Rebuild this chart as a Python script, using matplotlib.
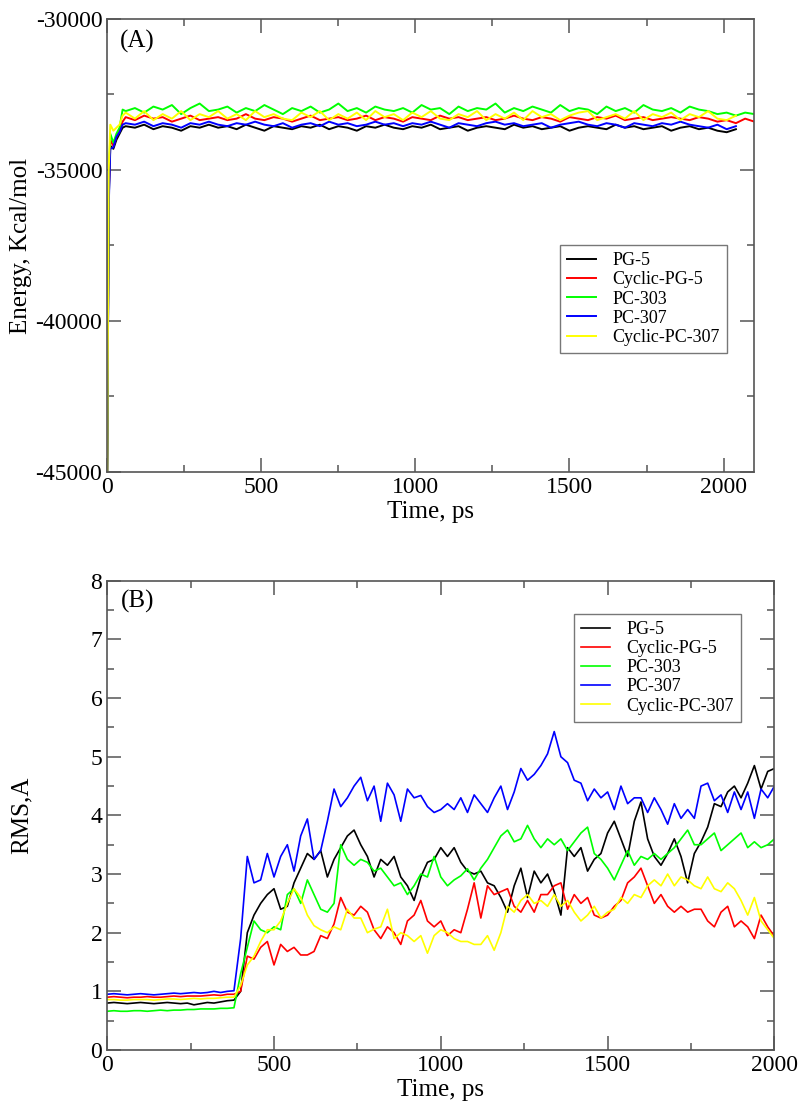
import numpy as np
import matplotlib
matplotlib.use("Agg")
import matplotlib.pyplot as plt
from matplotlib.ticker import MultipleLocator

plt.rcParams['font.family'] = ['Liberation Serif', 'DejaVu Serif']
plt.rcParams['axes.unicode_minus'] = False

names = ["PG-5", "Cyclic-PG-5", "PC-303", "PC-307", "Cyclic-PC-307"]
colors = ["black", "red", "#00ff00", "blue", "yellow"]

# ---- panel A: energy vs time ----
t_a = [0, 5, 10, 20, 30, 40, 50] + list(range(60, 2101, 30))

e_pg5 = [-45000, -36000, -34200, -34300, -34000, -33800, -33600,
         -33550, -33600, -33500, -33650, -33550, -33600, -33700, -33550, -33600, -33500,
         -33600, -33550, -33650, -33500, -33600, -33700, -33550, -33600, -33650, -33550,
         -33600, -33500, -33650, -33550, -33600, -33700, -33550, -33600, -33500, -33600,
         -33650, -33550, -33600, -33500, -33650, -33600, -33550, -33700, -33600, -33550,
         -33600, -33650, -33500, -33600, -33550, -33650, -33600, -33550, -33700, -33600,
         -33550, -33600, -33650, -33500, -33600, -33550, -33650, -33600, -33550, -33700,
         -33600, -33550, -33650, -33600, -33700, -33750, -33650]
e_cpg5 = [-45000, -35800, -34000, -34200, -33900, -33700, -33400,
          -33250, -33350, -33200, -33300, -33250, -33400, -33300, -33200, -33350, -33300,
          -33250, -33350, -33300, -33150, -33300, -33350, -33250, -33300, -33400, -33300,
          -33200, -33350, -33300, -33250, -33350, -33300, -33200, -33350, -33250, -33300,
          -33400, -33250, -33300, -33350, -33200, -33300, -33250, -33350, -33300, -33250,
          -33350, -33300, -33200, -33300, -33350, -33250, -33300, -33400, -33250, -33300,
          -33350, -33250, -33300, -33200, -33350, -33300, -33250, -33350, -33300, -33250,
          -33300, -33350, -33250, -33300, -33400, -33350, -33450, -33300, -33400]
e_pc303 = [-45000, -35500, -33800, -34100, -33800, -33600, -33000,
           -33050, -32950, -33100, -32900, -33000, -32850, -33150, -32950, -32800, -33050,
           -33000, -32900, -33100, -32950, -33050, -32850, -33000, -33150, -32950, -33050,
           -32900, -33100, -33000, -32800, -33050, -32950, -33100, -32900, -33000, -33050,
           -32950, -33100, -32850, -33000, -32950, -33150, -32900, -33050, -32950, -33000,
           -32800, -33100, -32950, -33050, -32900, -33000, -33100, -32850, -33050, -32950,
           -33000, -33150, -32900, -33050, -32950, -33100, -32850, -33000, -33050, -32950,
           -33100, -32900, -33000, -33050, -33150, -33100, -33200, -33100, -33150]
e_pc307 = [-45000, -36200, -34300, -34250, -33900, -33750, -33500,
           -33450, -33500, -33400, -33550, -33450, -33500, -33600, -33450, -33500, -33400,
           -33500, -33550, -33450, -33500, -33400, -33500, -33550, -33450, -33600, -33500,
           -33450, -33550, -33400, -33500, -33450, -33550, -33500, -33400, -33500, -33450,
           -33550, -33450, -33500, -33400, -33500, -33600, -33450, -33500, -33550, -33450,
           -33400, -33500, -33450, -33550, -33500, -33450, -33600, -33500, -33450, -33400,
           -33500, -33550, -33450, -33500, -33600, -33450, -33500, -33550, -33450, -33500,
           -33400, -33500, -33550, -33600, -33500, -33650, -33550]
e_cpc307 = [-45000, -35000, -33500, -33700, -33600, -33500, -33200,
            -33100, -33300, -33050, -33350, -33150, -33300, -33050, -33350, -33150, -33250,
            -33050, -33300, -33150, -33350, -33050, -33250, -33150, -33300, -33350, -33100,
            -33250, -33050, -33350, -33150, -33300, -33100, -33350, -33050, -33250, -33150,
            -33350, -33100, -33250, -33050, -33300, -33350, -33150, -33250, -33050, -33350,
            -33150, -33300, -33100, -33350, -33050, -33250, -33150, -33350, -33200, -33100,
            -33050, -33350, -33250, -33150, -33300, -33050, -33350, -33150, -33250, -33100,
            -33350, -33150, -33250, -33050, -33300, -33350, -33200]

# ---- panel B: RMS vs time ----
t_b = list(range(0, 2001, 20))

r_pg5 = [0.8, 0.81, 0.8, 0.79, 0.8, 0.81, 0.8, 0.79, 0.8, 0.81,
         0.8, 0.79, 0.8, 0.77, 0.79, 0.81, 0.8, 0.82, 0.84, 0.85,
         1.0, 2.0, 2.3, 2.5, 2.65, 2.75, 2.4, 2.45, 2.85, 3.1,
         3.35, 3.25, 3.4, 2.95, 3.25, 3.45, 3.65, 3.75, 3.5, 3.3,
         2.95, 3.25, 3.15, 3.3, 2.95, 2.8, 2.55, 2.95, 3.2, 3.25,
         3.45, 3.3, 3.45, 3.2, 3.05, 3.0, 3.05, 2.85, 2.8, 2.6,
         2.35, 2.8, 3.1, 2.6, 3.05, 2.85, 3.0, 2.7, 2.3, 3.45,
         3.3, 3.45, 3.05, 3.25, 3.35, 3.7, 3.9, 3.6, 3.3, 3.9,
         4.23, 3.6, 3.3, 3.15, 3.35, 3.6, 3.3, 2.85, 3.35, 3.55,
         3.8, 4.2, 4.15, 4.4, 4.5, 4.3, 4.55, 4.85, 4.45, 4.75,
         4.8]
r_cpg5 = [0.9, 0.91, 0.9, 0.89, 0.9, 0.9, 0.91, 0.9, 0.9, 0.91,
          0.92, 0.91, 0.92, 0.92, 0.92, 0.93, 0.94, 0.93, 0.95, 0.95,
          1.0, 1.6, 1.55, 1.75, 1.85, 1.45, 1.8, 1.68, 1.75, 1.62,
          1.62, 1.68, 1.95, 1.9, 2.15, 2.6, 2.35, 2.3, 2.45, 2.35,
          2.05, 1.9, 2.1, 2.0, 1.8, 2.2, 2.3, 2.55, 2.2, 2.1,
          2.2, 1.95, 2.05, 2.0, 2.4, 2.85, 2.25, 2.8, 2.65, 2.7,
          2.75, 2.45, 2.35, 2.55, 2.35, 2.65, 2.65, 2.8, 2.85, 2.4,
          2.65, 2.5, 2.6, 2.3, 2.25, 2.3, 2.45, 2.55, 2.85, 2.95,
          3.1, 2.8, 2.5, 2.65, 2.45, 2.35, 2.45, 2.35, 2.4, 2.4,
          2.2, 2.1, 2.35, 2.45, 2.1, 2.2, 2.1, 1.9, 2.3, 2.1,
          1.94]
r_pc303 = [0.66, 0.67, 0.66, 0.66, 0.67, 0.67, 0.66, 0.67, 0.68, 0.67,
           0.68, 0.68, 0.69, 0.69, 0.7, 0.7, 0.7, 0.71, 0.71, 0.72,
           1.3, 1.75, 2.2, 2.05, 2.0, 2.1, 2.05, 2.65, 2.75, 2.5,
           2.9, 2.65, 2.4, 2.35, 2.5, 3.5, 3.25, 3.15, 3.25, 3.2,
           3.05, 3.1, 2.95, 2.8, 2.85, 2.65, 2.8, 3.0, 2.95, 3.3,
           2.95, 2.8, 2.9, 2.97, 3.09, 2.9, 3.1, 3.25, 3.45, 3.65,
           3.75, 3.55, 3.6, 3.83, 3.6, 3.45, 3.6, 3.5, 3.6, 3.4,
           3.55, 3.7, 3.8, 3.35, 3.25, 3.1, 2.9, 3.15, 3.4, 3.15,
           3.3, 3.25, 3.35, 3.25, 3.35, 3.45, 3.6, 3.75, 3.5, 3.5,
           3.6, 3.7, 3.4, 3.5, 3.6, 3.7, 3.45, 3.55, 3.45, 3.5,
           3.6]
r_pc307 = [0.95, 0.96, 0.95, 0.94, 0.95, 0.96, 0.95, 0.94, 0.95, 0.96,
           0.97, 0.96, 0.97, 0.98, 0.97, 0.98, 1.0, 0.98, 1.0, 1.01,
           1.9, 3.3, 2.85, 2.9, 3.35, 2.95, 3.3, 3.5, 3.05, 3.65,
           3.94, 3.25, 3.4, 3.9, 4.45, 4.15, 4.3, 4.5, 4.65, 4.25,
           4.5, 3.9, 4.55, 4.35, 3.9, 4.45, 4.3, 4.34, 4.15, 4.05,
           4.1, 4.2, 4.1, 4.3, 4.05, 4.35, 4.2, 4.05, 4.3, 4.5,
           4.1, 4.4, 4.8, 4.6, 4.7, 4.85, 5.05, 5.43, 5.0, 4.9,
           4.6, 4.55, 4.25, 4.45, 4.3, 4.4, 4.1, 4.5, 4.2, 4.3,
           4.3, 4.05, 4.3, 4.1, 3.85, 4.2, 3.95, 4.1, 3.95, 4.5,
           4.55, 4.25, 4.35, 4.05, 4.4, 4.1, 4.4, 3.95, 4.45, 4.3,
           4.5]
r_cpc307 = [0.86, 0.86, 0.85, 0.85, 0.86, 0.86, 0.86, 0.85, 0.86, 0.87,
            0.87, 0.86, 0.87, 0.88, 0.87, 0.88, 0.88, 0.89, 0.9, 0.9,
            1.1, 1.45, 1.6, 1.85, 2.05, 2.05, 2.2, 2.5, 2.75, 2.6,
            2.3, 2.12, 2.05, 2.0, 2.1, 2.05, 2.4, 2.25, 2.25, 2.0,
            2.06, 2.1, 2.4, 1.9, 2.0, 1.95, 1.85, 1.95, 1.65, 1.95,
            2.05, 2.0, 1.9, 1.85, 1.85, 1.8, 1.8, 1.95, 1.7, 2.0,
            2.45, 2.35, 2.55, 2.65, 2.5, 2.55, 2.45, 2.65, 2.45, 2.55,
            2.35, 2.2, 2.3, 2.45, 2.25, 2.35, 2.4, 2.6, 2.5, 2.65,
            2.6, 2.8, 2.9, 2.8, 3.0, 2.8, 2.95, 2.9, 2.8, 2.75,
            2.95, 2.75, 2.7, 2.85, 2.75, 2.55, 2.3, 2.6, 2.2, 2.05,
            1.9]

energy = [e_pg5, e_cpg5, e_pc303, e_pc307, e_cpc307]
rms = [r_pg5, r_cpg5, r_pc303, r_pc307, r_cpc307]

fig = plt.figure(figsize=(8, 11.17), dpi=100)
ax1 = fig.add_axes([0.134, 0.5775, 0.809, 0.4055])
ax2 = fig.add_axes([0.134, 0.060, 0.834, 0.420])


def style(ax):
    for s in ax.spines.values():
        s.set_color("#555555")
        s.set_linewidth(1.2)
    ax.tick_params(which="both", direction="in", top=True, right=True,
                   color="#555555", labelsize=17, width=1.1)
    ax.tick_params(which="major", length=10)
    ax.tick_params(which="minor", length=5)


def add_legend(ax, x, y):
    leg = ax.legend(loc="upper left", bbox_to_anchor=(x, y), borderaxespad=0,
                    fontsize=13, fancybox=False, edgecolor="#555555",
                    handlelength=1.6, labelspacing=0.12, borderpad=0.4,
                    handletextpad=0.9)
    leg.get_frame().set_linewidth(1.0)


for name, c, y in zip(names, colors, energy):
    ax1.plot(t_a[:len(y)], y, color=c, lw=1.4, label=name)
ax1.set_xlim(0, 2100)
ax1.set_ylim(-45000, -30000)
ax1.xaxis.set_major_locator(MultipleLocator(500))
ax1.xaxis.set_minor_locator(MultipleLocator(250))
ax1.yaxis.set_major_locator(MultipleLocator(5000))
ax1.yaxis.set_minor_locator(MultipleLocator(2500))
style(ax1)
ax1.set_xlabel("Time, ps", fontsize=18, labelpad=2)
ax1.set_ylabel("Energy, Kcal/mol", fontsize=18)
ax1.yaxis.set_label_coords(-0.116, 0.5)
ax1.text(0.02, 0.95, "(A)", transform=ax1.transAxes, fontsize=18, va="center")
add_legend(ax1, 0.700, 0.501)

for name, c, y in zip(names, colors, rms):
    ax2.plot(t_b, y, color=c, lw=1.2, label=name)
ax2.set_xlim(0, 2000)
ax2.set_ylim(0, 8)
ax2.xaxis.set_major_locator(MultipleLocator(500))
ax2.xaxis.set_minor_locator(MultipleLocator(250))
ax2.yaxis.set_major_locator(MultipleLocator(1))
ax2.yaxis.set_minor_locator(MultipleLocator(0.5))
style(ax2)
ax2.set_xlabel("Time, ps", fontsize=18, labelpad=2)
ax2.set_ylabel("RMS,A", fontsize=18)
ax2.yaxis.set_label_coords(-0.112, 0.5)
ax2.text(0.02, 0.955, "(B)", transform=ax2.transAxes, fontsize=18, va="center")
add_legend(ax2, 0.700, 0.930)

fig.savefig("out.png", dpi=100)
